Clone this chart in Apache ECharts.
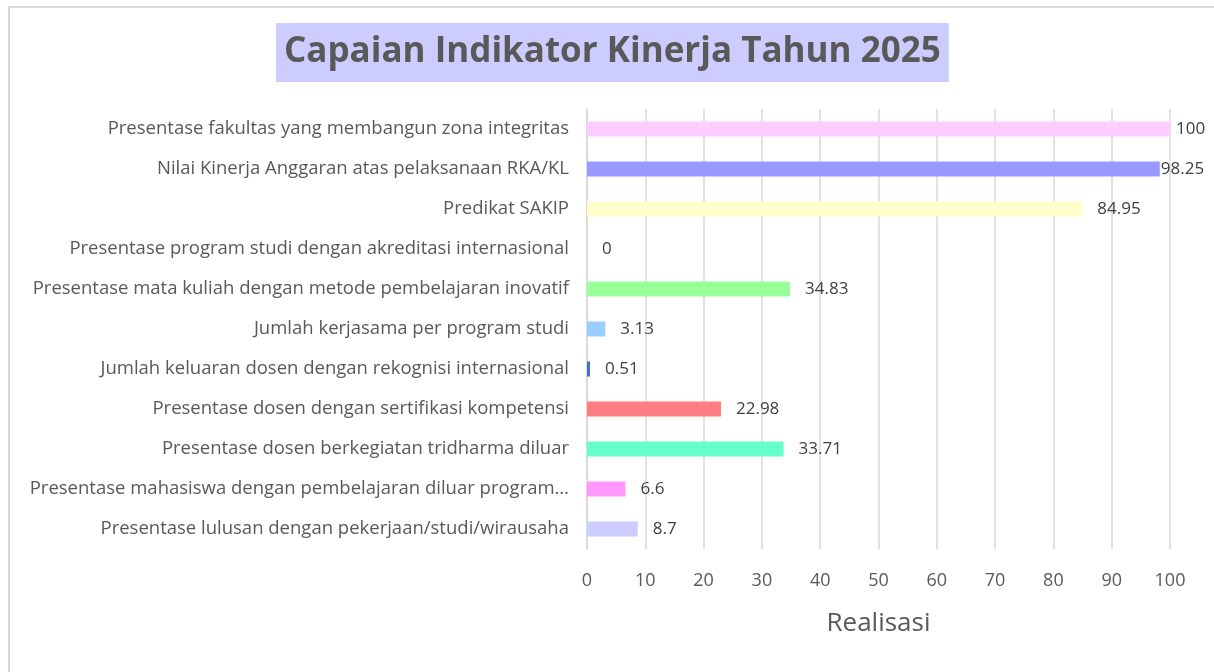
<!DOCTYPE html>
<html>
<head>
<meta charset="utf-8">
<title>Capaian Indikator Kinerja Tahun 2025</title>
<script src="https://cdn.jsdelivr.net/npm/echarts@6/dist/echarts.min.js"></script>
<style>
    html, body { margin: 0; padding: 0; background: #fff; }
    #frame { position: absolute; left: 8px; top: 6px; width: 1220px; height: 700px;
             border-left: 2px solid #d9d9d9; border-top: 2px solid #d9d9d9; }
    #main { position: absolute; left: 0; top: 0; width: 1214px; height: 672px; }
</style>
</head>
<body>
<div id="frame"></div>
<div id="main"></div>
<script>
// indikator, urut dari atas ke bawah
var categories = [
    'Presentase fakultas yang membangun zona integritas',
    'Nilai Kinerja Anggaran atas pelaksanaan RKA/KL',
    'Predikat SAKIP',
    'Presentase program studi dengan akreditasi internasional',
    'Presentase mata kuliah dengan metode pembelajaran inovatif',
    'Jumlah kerjasama per program studi',
    'Jumlah keluaran dosen dengan rekognisi internasional',
    'Presentase dosen dengan sertifikasi kompetensi',
    'Presentase dosen berkegiatan tridharma diluar',
    'Presentase mahasiswa dengan pembelajaran diluar program…',
    'Presentase lulusan dengan pekerjaan/studi/wirausaha'
];
var realisasi = [100, 98.25, 84.95, 0, 34.83, 3.13, 0.51, 22.98, 33.71, 6.6, 8.7];
var barColors = ['#ffccff', '#9999ff', '#ffffcc', '#c0c0c0', '#99ff99', '#99ccff',
                 '#4472c4', '#ff7c80', '#66ffcc', '#ff99ff', '#ccccff'];
var xTicks = [0, 10, 20, 30, 40, 50, 60, 70, 80, 90, 100];

var myChart = echarts.init(document.getElementById('main'));

var seriesData = realisasi.map(function (v, i) {
    var item = { value: v, itemStyle: { color: barColors[i] } };
    // label yang mepet ujung kanan
    if (i === 0) item.label = { distance: 6 };
    if (i === 1) item.label = { distance: 1 };
    return item;
});

var option = {
    animation: false,
    title: {
        text: 'Capaian Indikator Kinerja Tahun 2025',
        left: 276,
        top: 23,
        padding: [12, 8, 12, 8],
        backgroundColor: '#ccccff',
        textStyle: {
            fontFamily: 'Open Sans',
            fontSize: 35,
            fontWeight: 'bold',
            color: '#595959'
        }
    },
    grid: {
        left: 587,
        right: 44,
        top: 109,
        bottom: 123,
        containLabel: false
    },
    xAxis: {
        type: 'value',
        min: xTicks[0],
        max: xTicks[xTicks.length - 1],
        interval: 10,
        name: 'Realisasi',
        nameLocation: 'middle',
        nameGap: 62,
        nameTextStyle: { fontFamily: 'Open Sans', fontSize: 26, color: '#595959' },
        axisLine: { show: false },
        axisTick: { show: false },
        axisLabel: { fontFamily: 'Open Sans', fontSize: 18, color: '#595959', margin: 23 },
        splitLine: { lineStyle: { color: '#d9d9d9', width: 1.5 } }
    },
    yAxis: {
        type: 'category',
        inverse: true,
        data: categories,
        axisLine: { show: true, lineStyle: { color: '#d9d9d9', width: 1.5 } },
        axisTick: { show: false },
        axisLabel: { fontFamily: 'Open Sans', fontSize: 18.5, color: '#595959', margin: 18 }
    },
    series: [{
        name: 'Realisasi',
        type: 'bar',
        barWidth: 15,
        data: seriesData,
        label: {
            show: true,
            position: 'right',
            distance: 15,
            fontFamily: 'Open Sans',
            fontSize: 17,
            color: '#404040'
        }
    }]
};
myChart.setOption(option);
</script>
</body>
</html>
